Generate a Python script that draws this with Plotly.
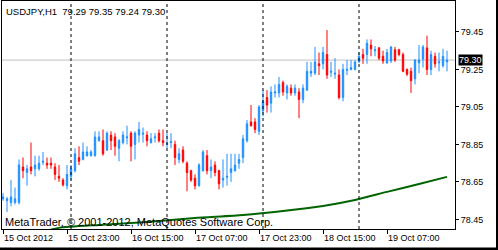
import pandas as pd
import plotly.graph_objects as go

opens = [78.56, 78.55, 78.54, 78.54, 78.54, 78.73, 78.70, 78.73, 78.72, 78.72,
         78.755, 78.75, 78.75, 78.73, 78.68, 78.66, 78.63, 78.68, 78.71, 78.78,
         78.77, 78.79, 78.79, 78.79, 78.87, 78.87, 78.82, 78.90, 78.89, 78.83,
         78.86, 78.885, 78.91, 78.85, 78.90, 78.905, 78.90, 78.86, 78.885, 78.91,
         78.87, 78.85, 78.86, 78.85, 78.77, 78.82, 78.75, 78.71, 78.67, 78.63,
         78.71, 78.79, 78.71, 78.74, 78.71, 78.66, 78.675, 78.70, 78.71, 78.75,
         78.78, 78.87, 78.97, 78.97, 78.92, 79.03, 79.10, 79.07, 79.125, 79.125,
         79.18, 79.125, 79.15, 79.125, 79.13, 79.09, 79.14, 79.23, 79.23, 79.28,
         79.28, 79.33, 79.235, 79.225, 79.22, 79.10, 79.245, 79.25, 79.25, 79.29,
         79.33, 79.33, 79.38, 79.35, 79.365, 79.32, 79.285, 79.295, 79.355, 79.355,
         79.33, 79.25, 79.24, 79.20, 79.285, 79.305, 79.365, 79.25, 79.32, 79.285,
         79.27, 79.29]
highs = [78.59, 78.57, 78.66, 78.62, 78.77, 78.78, 78.74, 78.86, 78.79, 78.79,
         78.81, 78.78, 78.78, 78.75, 78.74, 78.67, 78.74, 78.74, 78.83, 78.84,
         78.86, 78.84, 78.82, 78.92, 78.92, 78.93, 78.92, 78.92, 78.91, 78.88,
         78.92, 78.95, 78.92, 78.92, 78.97, 78.94, 78.92, 78.91, 78.91, 78.93,
         78.93, 78.91, 78.91, 78.87, 78.83, 78.84, 78.76, 78.715, 78.69, 78.75,
         78.82, 78.82, 78.77, 78.76, 78.715, 78.77, 78.80, 78.80, 78.80, 78.80,
         78.90, 78.98, 79.06, 78.99, 79.06, 79.14, 79.14, 79.16, 79.17, 79.21,
         79.19, 79.17, 79.17, 79.17, 79.15, 79.17, 79.29, 79.29, 79.37, 79.34,
         79.37, 79.46, 79.29, 79.31, 79.25, 79.28, 79.30, 79.30, 79.30, 79.34,
         79.36, 79.41, 79.41, 79.375, 79.37, 79.35, 79.36, 79.375, 79.37, 79.36,
         79.34, 79.255, 79.26, 79.305, 79.38, 79.38, 79.43, 79.35, 79.34, 79.34,
         79.36, 79.35]
lows = [78.55, 78.49, 78.52, 78.53, 78.53, 78.67, 78.63, 78.69, 78.68, 78.71,
        78.74, 78.72, 78.72, 78.66, 78.65, 78.625, 78.61, 78.66, 78.70, 78.74,
        78.765, 78.785, 78.785, 78.785, 78.865, 78.79, 78.815, 78.82, 78.79, 78.76,
        78.85, 78.85, 78.76, 78.77, 78.86, 78.86, 78.84, 78.855, 78.86, 78.86,
        78.84, 78.83, 78.83, 78.74, 78.75, 78.75, 78.60, 78.65, 78.61, 78.625,
        78.705, 78.69, 78.67, 78.68, 78.61, 78.62, 78.63, 78.65, 78.705, 78.72,
        78.75, 78.86, 78.945, 78.91, 78.90, 79.00, 79.02, 79.02, 79.10, 79.10,
        79.11, 79.09, 79.11, 79.11, 78.99, 79.07, 79.135, 79.21, 79.22, 79.22,
        79.25, 79.20, 79.21, 79.20, 79.09, 79.08, 79.22, 79.245, 79.245, 79.285,
        79.28, 79.28, 79.32, 79.32, 79.30, 79.28, 79.28, 79.285, 79.29, 79.32,
        79.235, 79.215, 79.125, 79.17, 79.23, 79.26, 79.22, 79.22, 79.26, 79.24,
        79.26, 79.24]
closes = [78.57, 78.56, 78.57, 78.56, 78.74, 78.71, 78.72, 78.71, 78.74, 78.75,
          78.76, 78.74, 78.74, 78.69, 78.67, 78.635, 78.69, 78.72, 78.80, 78.76,
          78.81, 78.81, 78.81, 78.89, 78.89, 78.80, 78.91, 78.87, 78.84, 78.87,
          78.90, 78.89, 78.84, 78.91, 78.93, 78.91, 78.87, 78.88, 78.89, 78.87,
          78.86, 78.855, 78.865, 78.78, 78.80, 78.76, 78.70, 78.66, 78.63, 78.74,
          78.81, 78.71, 78.73, 78.70, 78.64, 78.67, 78.68, 78.72, 78.74, 78.77,
          78.88, 78.96, 78.95, 78.93, 79.05, 79.08, 79.06, 79.13, 79.13, 79.17,
          79.13, 79.16, 79.125, 79.15, 79.09, 79.15, 79.24, 79.24, 79.29, 79.27,
          79.34, 79.22, 79.24, 79.23, 79.10, 79.25, 79.25, 79.26, 79.29, 79.32,
          79.31, 79.39, 79.36, 79.355, 79.31, 79.295, 79.34, 79.37, 79.30, 79.33,
          79.24, 79.225, 79.19, 79.30, 79.30, 79.37, 79.25, 79.33, 79.28, 79.29,
          79.32, 79.30]

ma_idx = [11, 14, 24, 36, 48, 60, 70, 80, 88, 96, 104, 111]
ma_val = [78.39, 78.405, 78.421, 78.437, 78.458, 78.474, 78.495, 78.522,
          78.554, 78.597, 78.639, 78.677]

price_ticks = [78.45, 78.65, 78.85, 79.05, 79.25, 79.45]
bid = 79.30
header = "USDJPY,H1  79.29 79.35 79.24 79.30"
copyright_text = "MetaTrader, © 2001-2012, MetaQuotes Software Corp."

times = pd.date_range("2012-10-15 07:00", periods=len(opens), freq="h")
idx = list(range(len(opens)))
label_idx = list(range(0, len(opens), 16))
label_txt = [times[i].strftime("%d %b %Y") if k == 0 else times[i].strftime("%d %b %H:%M")
             for k, i in enumerate(label_idx)]
separators = [i for i, t in enumerate(times) if t.hour == 0]

BLUE = "#1E90FF"
RED = "#FF0000"
FONT = "Liberation Sans, Arial, sans-serif"

fig = go.Figure()
fig.add_trace(go.Candlestick(
    x=idx, open=opens, high=highs, low=lows, close=closes,
    increasing=dict(line=dict(color=BLUE, width=1), fillcolor=BLUE),
    decreasing=dict(line=dict(color=RED, width=1), fillcolor=RED),
    whiskerwidth=0, showlegend=False, hoverinfo="skip"))
fig.add_trace(go.Scatter(
    x=ma_idx, y=ma_val, mode="lines", line=dict(color="#006400", width=2, shape="spline", smoothing=0.6),
    showlegend=False, hoverinfo="skip"))

for s in separators:
    fig.add_vline(x=s, line=dict(color="black", width=1, dash="3px,3px"), layer="above")
fig.add_hline(y=bid, line=dict(color="#C0C0C0", width=1), layer="below")

fig.add_annotation(x=0, xref="paper", y=1, yref="paper", xanchor="left", yanchor="top",
                   xshift=2, yshift=-3, text=header, showarrow=False,
                   font=dict(family=FONT, size=9.5, color="black"))
fig.add_annotation(x=0, xref="paper", y=0, yref="paper", xanchor="left", yanchor="bottom",
                   xshift=1, yshift=-1, text=copyright_text, showarrow=False,
                   font=dict(family=FONT, size=11, color="black"))
fig.add_annotation(x=1, xref="paper", y=bid, yref="y", xanchor="left", yanchor="middle",
                   xshift=3, text=f"{bid:.2f}", showarrow=False, bgcolor="black",
                   borderpad=0, font=dict(family=FONT, size=9, color="white"))

# window frame strip (bottom and right)
fig.add_shape(type="rect", xref="paper", yref="paper", x0=-0.01, x1=1.2, y0=-0.095, y1=-0.081,
              fillcolor="black", line=dict(width=0), layer="above")
fig.add_shape(type="rect", xref="paper", yref="paper", x0=1.0905, x1=1.1, y0=-0.1, y1=1.01,
              fillcolor="black", line=dict(width=0), layer="above")

fig.update_layout(
    width=498, height=250,
    margin=dict(l=2, r=43, t=1, b=21),
    paper_bgcolor="white", plot_bgcolor="white",
    boxgap=0.5,
    font=dict(family=FONT, size=9, color="black"),
    xaxis=dict(range=[-0.25, 113], showgrid=False, zeroline=False,
               showline=True, linecolor="black", linewidth=1, mirror=True,
               tickvals=label_idx, ticktext=label_txt, ticks="outside", ticklen=4,
               tickcolor="black", ticklabelposition="outside right",
               rangeslider=dict(visible=False), tickfont=dict(size=9)),
    yaxis=dict(range=[78.399, 79.615], side="right", showgrid=False, zeroline=False,
               showline=True, linecolor="black", linewidth=1, mirror=True,
               tickvals=price_ticks, ticktext=[f"{v:.2f}" for v in price_ticks],
               ticks="outside", ticklen=3, tickcolor="black", tickfont=dict(size=9)),
)

fig.write_html("out.html")
